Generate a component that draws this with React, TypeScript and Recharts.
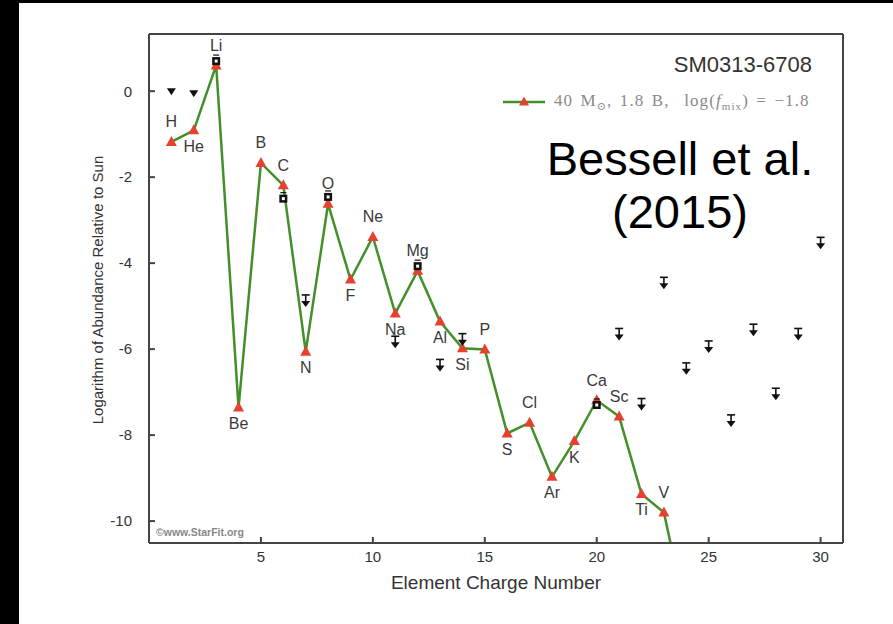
import { ComposedChart, Line, Scatter, XAxis, YAxis } from "recharts";

// model (red triangles on green line)
const modelZ = [1, 2, 3, 4, 5, 6, 7, 8, 9, 10, 11, 12, 13, 14, 15, 16, 17, 18, 19, 20, 21, 22, 23, 24];
const modelNames = ["H", "He", "Li", "Be", "B", "C", "N", "O", "F", "Ne", "Na", "Mg", "Al", "Si", "P", "S", "Cl", "Ar", "K", "Ca", "Sc", "Ti", "V", "Cr"];
const modelLogAbund = [-1.18, -0.91, 0.6, -7.36, -1.67, -2.19, -6.06, -2.62, -4.38, -3.39, -5.17, -4.18, -5.36, -5.98, -6.01, -7.96, -7.71, -8.97, -8.14, -7.19, -7.57, -9.37, -9.8, -12.2];

// measured abundances
const detectionZ = [3, 6, 8, 12, 20];
const detectionLogAbund = [0.7, -2.5, -2.46, -4.07, -7.3];

// upper limits
const limitZ = [7, 11, 13, 14, 21, 22, 23, 24, 25, 26, 27, 28, 29, 30];
const limitLogAbund = [-4.74, -5.7, -6.24, -5.64, -5.52, -7.15, -4.33, -6.32, -5.81, -7.53, -5.42, -6.91, -5.52, -3.4];
const plainLimitZ = [1, 2];
const plainLimitLogAbund = [0, -0.05];

const xTicks = [5, 10, 15, 20, 25, 30];
const yTicks = [0, -2, -4, -6, -8, -10];

// which side of the point each element name sits on
const labelSide = ["up", "down", "up", "down", "up", "up", "down", "up", "down", "up", "down", "up", "down", "down", "up", "down", "up", "down", "down", "up", "up", "down", "up", ""];

const modelData = modelZ.map((z, i) => ({ z, y: modelLogAbund[i] }));
const detectionData = detectionZ.map((z, i) => ({ z, y: detectionLogAbund[i] }));
const limitData = limitZ.map((z, i) => ({ z, y: limitLogAbund[i] }));
const plainLimitData = plainLimitZ.map((z, i) => ({ z, y: plainLimitLogAbund[i] }));

const GREEN = "#43902a";
const RED = "#e5412f";
const INK = "#111";
const FONT = "'Liberation Sans', Arial, Helvetica, sans-serif";

const redTriangle = (props: any) => {
  const { cx, cy, index } = props;
  if (cx == null || cy == null) return <g key={index} />;
  return <polygon key={index} points={`${cx},${cy - 6} ${cx + 5.5},${cy + 4} ${cx - 5.5},${cy + 4}`} fill={RED} />;
};

const elementLabel = (props: any) => {
  const { x, y, index } = props;
  const side = labelSide[index];
  if (!side) return <g key={index} />;
  return (
    <text key={index} x={x} y={side === "up" ? y - 20 : y + 16} textAnchor="middle" dominantBaseline="central" fontSize={16} fill="#3a3a3a" fontFamily={FONT}>
      {modelNames[index]}
    </text>
  );
};

const detectionShape = (props: any) => {
  const { cx, cy } = props;
  return (
    <g>
      <line x1={cx - 3} x2={cx + 3} y1={cy - 6} y2={cy - 6} stroke={INK} strokeWidth={1.2} />
      <rect x={cx - 4} y={cy - 4} width={8} height={8} fill={INK} />
      <rect x={cx - 1.5} y={cy - 1.5} width={3} height={3} fill="#fff" />
    </g>
  );
};

const limitShape = (props: any) => {
  const { cx, cy } = props;
  return (
    <g>
      <line x1={cx - 4} x2={cx + 4} y1={cy} y2={cy} stroke={INK} strokeWidth={1.6} />
      <line x1={cx} x2={cx} y1={cy} y2={cy + 7} stroke={INK} strokeWidth={1.6} />
      <polygon points={`${cx - 4.5},${cy + 6} ${cx + 4.5},${cy + 6} ${cx},${cy + 12}`} fill={INK} />
    </g>
  );
};

const plainLimitShape = (props: any) => {
  const { cx, cy } = props;
  return <polygon points={`${cx - 4.5},${cy - 3} ${cx + 4.5},${cy - 3} ${cx},${cy + 4}`} fill={INK} />;
};

export default function App() {
  const frame = { stroke: "#444", strokeWidth: 2 };
  const tickStyle = { fontSize: 15, fill: "#333", fontFamily: FONT };
  return (
    <div style={{ position: "fixed", left: 0, top: 0, width: 893, height: 624, background: "#fff", overflow: "hidden" }}>
      <ComposedChart width={893} height={624} margin={{ top: 33, right: 49, bottom: 41, left: 89 }}>
        <XAxis
          dataKey="z"
          type="number"
          domain={[0, 31]}
          ticks={xTicks}
          allowDataOverflow
          height={40}
          axisLine={frame}
          tickLine={frame}
          tickSize={-6}
          tickMargin={14}
          tick={tickStyle}
        />
        <XAxis xAxisId="top" orientation="top" type="number" domain={[0, 31]} ticks={xTicks} allowDataOverflow height={1} axisLine={frame} tickLine={frame} tickSize={-6} tick={false} />
        <YAxis
          type="number"
          domain={[-10.51, 1.33]}
          ticks={yTicks}
          allowDataOverflow
          width={60}
          axisLine={frame}
          tickLine={frame}
          tickSize={-6}
          tickMargin={23}
          tick={tickStyle}
        />
        <YAxis yAxisId="right" orientation="right" type="number" domain={[-10.51, 1.33]} ticks={yTicks} allowDataOverflow width={1} axisLine={frame} tickLine={frame} tickSize={-6} tick={false} />
        <Line
          data={modelData}
          dataKey="y"
          stroke={GREEN}
          strokeWidth={2.5}
          dot={redTriangle}
          activeDot={false}
          label={elementLabel}
          isAnimationActive={false}
        />
        <Scatter data={detectionData} dataKey="y" shape={detectionShape} isAnimationActive={false} />
        <Scatter data={limitData} dataKey="y" shape={limitShape} isAnimationActive={false} />
        <Scatter data={plainLimitData} dataKey="y" shape={plainLimitShape} isAnimationActive={false} />
      </ComposedChart>

      <div style={{ position: "absolute", left: 296, top: 572, width: 400, textAlign: "center", fontFamily: FONT, fontSize: 19, color: "#333" }}>
        Element Charge Number
      </div>
      <div style={{ position: "absolute", left: 98 - 180, top: 290 - 10, width: 360, height: 20, lineHeight: "20px", textAlign: "center", fontFamily: FONT, fontSize: 15, color: "#333", transform: "rotate(-90deg)" }}>
        Logarithm of Abundance Relative to Sun
      </div>
      <div style={{ position: "absolute", left: 156, top: 526, fontFamily: FONT, fontSize: 10.5, fontWeight: "bold", color: "#888" }}>
        ©www.StarFit.org
      </div>

      <div style={{ position: "absolute", right: 893 - 812, top: 52, fontFamily: FONT, fontSize: 22, color: "#333", whiteSpace: "nowrap" }}>
        SM0313-6708
      </div>
      <div style={{ position: "absolute", left: 503, top: 91, display: "flex", alignItems: "center", whiteSpace: "nowrap" }}>
        <svg width={44} height={14}>
          <line x1={0} x2={42} y1={7} y2={7} stroke={GREEN} strokeWidth={2.5} />
          <polygon points="21,1.5 26,10.5 16,10.5" fill={RED} />
        </svg>
        <span style={{ marginLeft: 7, fontFamily: "'Liberation Serif', 'DejaVu Serif', serif", fontSize: 17, letterSpacing: 1.1, wordSpacing: 2, color: "#8a8a8a" }}>
          40 M<sub style={{ fontSize: 11 }}>⊙</sub>, 1.8 B,&nbsp; log(<i>f</i><sub style={{ fontSize: 11 }}>mix</sub>) = −1.8
        </span>
      </div>

      <div style={{ position: "absolute", left: 530, top: 132, width: 300, textAlign: "center", fontFamily: FONT, fontSize: 47, lineHeight: "53px", color: "#000" }}>
        Bessell et al.
        <br />
        (2015)
      </div>

      <div style={{ position: "absolute", left: 0, top: 0, width: 19, height: 624, background: "#000" }} />
      <div style={{ position: "absolute", left: 0, top: 0, width: 893, height: 3, background: "#000" }} />
    </div>
  );
}
